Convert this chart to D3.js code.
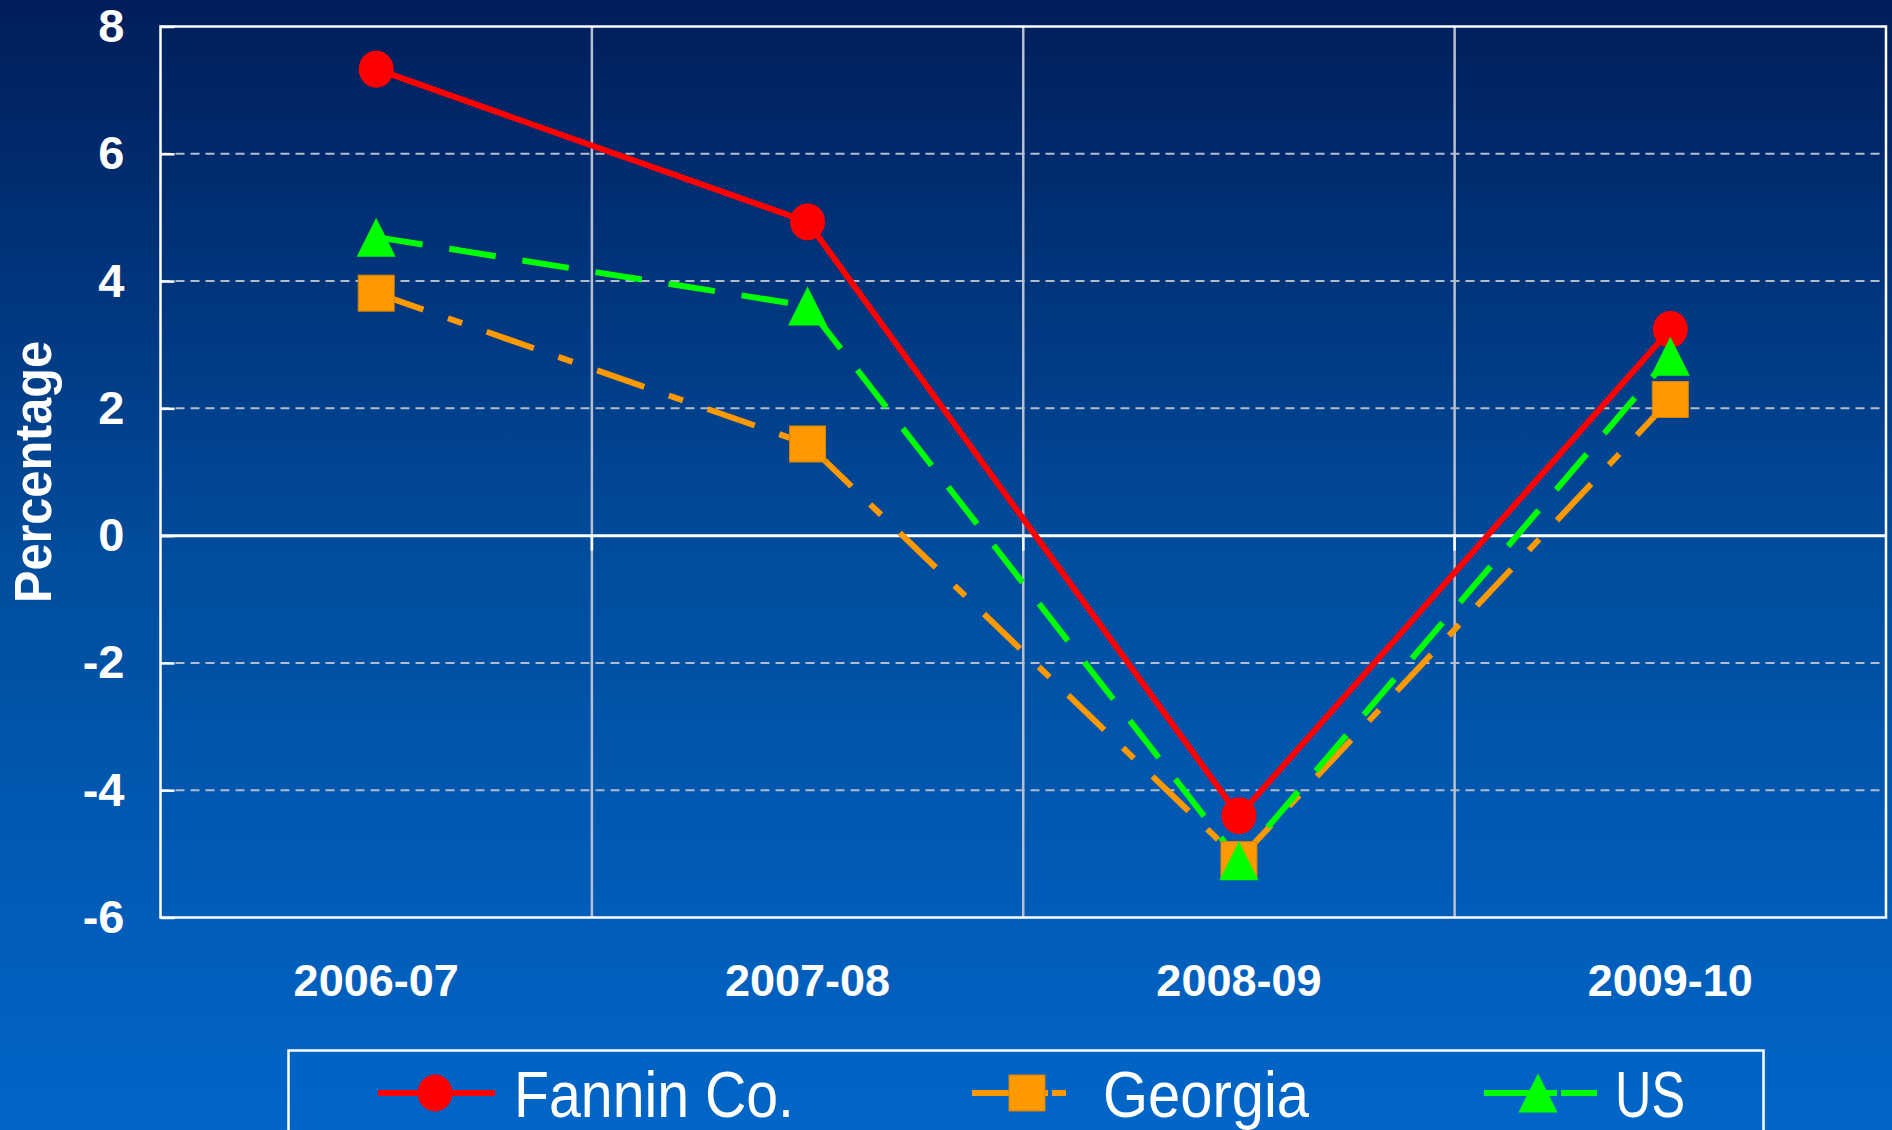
<!DOCTYPE html>
<html>
<head>
<meta charset="utf-8">
<script src="https://cdn.jsdelivr.net/npm/d3@7"></script>
<style>
  body { margin: 0; overflow: hidden; }
  svg text { font-family: "Liberation Sans", Arial, sans-serif; fill: #fff; }
</style>
</head>
<body>
<div id="chart"></div>
<script>
// Data
var years = ["2006-07", "2007-08", "2008-09", "2009-10"];
var fannin = [7.33, 4.93, -4.40, 3.24];
var georgia = [3.81, 1.44, -5.09, 2.14];
var us = [4.69, 3.61, -5.11, 2.82];
var seriesNames = ["Fannin Co.", "Georgia", "US"];
var yTicks = [-6, -4, -2, 0, 2, 4, 6, 8];

var w = 1892, h = 1130;
var margin = {top: 26.5, right: 6, bottom: 212.5, left: 160.5};

var series = [
  {name: seriesNames[0], values: fannin, color: "#ff0000", dash: null, marker: "circle"},
  {name: seriesNames[1], values: georgia, color: "#ff9900", dash: "50,26,15,26", marker: "square"},
  {name: seriesNames[2], values: us, color: "#00ff00", dash: "47,27", marker: "triangle"}
];

var svg = d3.select("#chart")
  .append("svg")
    .attr("width", w)
    .attr("height", h);

// background gradient
var grad = svg.append("defs").append("linearGradient")
  .attr("id", "bg")
  .attr("x1", 0).attr("y1", 0).attr("x2", 0).attr("y2", 1);
grad.append("stop").attr("offset", "0%").attr("stop-color", "#001d5a");
grad.append("stop").attr("offset", "50%").attr("stop-color", "#014d9e");
grad.append("stop").attr("offset", "100%").attr("stop-color", "#0166c8");
svg.append("rect").attr("width", w).attr("height", h).attr("fill", "url(#bg)");

var x = d3.scaleBand()
  .domain(years)
  .range([margin.left, w - margin.right])
  .padding(0);
var y = d3.scaleLinear()
  .domain([-6, 8])
  .range([h - margin.bottom, margin.top]);
var cx = function(i) { return x(years[i]) + x.bandwidth() / 2; };

// horizontal dashed gridlines
svg.append("g")
  .selectAll("line")
  .data(yTicks.filter(function(d) { return d !== 0 && d !== -6 && d !== 8; }))
  .enter().append("line")
    .attr("x1", margin.left).attr("x2", w - margin.right)
    .attr("y1", function(d) { return y(d); })
    .attr("y2", function(d) { return y(d); })
    .attr("stroke", "#b4bccc")
    .attr("stroke-width", 2)
    .attr("stroke-dasharray", "9,6");

// vertical gridlines between categories
svg.append("g")
  .selectAll("line")
  .data(years.slice(1))
  .enter().append("line")
    .attr("x1", function(d) { return x(d); })
    .attr("x2", function(d) { return x(d); })
    .attr("y1", margin.top).attr("y2", h - margin.bottom)
    .attr("stroke", "#b8c0d0")
    .attr("stroke-width", 2.5);

// zero line with small ticks below
svg.append("line")
  .attr("x1", margin.left).attr("x2", w - margin.right)
  .attr("y1", y(0)).attr("y2", y(0))
  .attr("stroke", "#fff").attr("stroke-width", 3);
svg.append("g")
  .selectAll("line")
  .data(years.slice(1))
  .enter().append("line")
    .attr("x1", function(d) { return x(d); })
    .attr("x2", function(d) { return x(d); })
    .attr("y1", y(0)).attr("y2", y(0) + 15)
    .attr("stroke", "#fff").attr("stroke-width", 2.5);

// plot border
svg.append("rect")
  .attr("x", margin.left).attr("y", margin.top)
  .attr("width", w - margin.left - margin.right)
  .attr("height", h - margin.top - margin.bottom)
  .attr("fill", "none")
  .attr("stroke", "#fff").attr("stroke-width", 2.5);

// Y axis (plain hyphen for negatives)
var yAxis = svg.append("g")
  .attr("transform", "translate(" + margin.left + ",0)")
  .call(d3.axisLeft(y).tickValues(yTicks).tickSize(-14).tickPadding(36)
    .tickFormat(function(d) { return String(d); }));
yAxis.select(".domain").remove();
yAxis.selectAll(".tick line").attr("stroke", "#fff").attr("stroke-width", 2.5);
yAxis.selectAll("text")
  .attr("fill", "#fff")
  .attr("font-size", "47px")
  .attr("font-weight", 700)
  .attr("font-family", "Liberation Sans, Arial, sans-serif");

// X axis labels
var xAxis = svg.append("g")
  .attr("transform", "translate(0," + (h - margin.bottom) + ")")
  .call(d3.axisBottom(x).tickSize(0).tickPadding(47));
xAxis.select(".domain").remove();
xAxis.selectAll("text")
  .attr("fill", "#fff")
  .attr("font-size", "45px")
  .attr("font-weight", 700)
  .attr("font-family", "Liberation Sans, Arial, sans-serif");

// Y axis title
svg.append("text")
  .attr("text-anchor", "middle")
  .attr("transform", "translate(51,472) rotate(-90)")
  .attr("font-size", "51px")
  .attr("font-weight", 700)
  .attr("textLength", 262)
  .attr("lengthAdjust", "spacingAndGlyphs")
  .text("Percentage");

function drawMarker(g, type, color, px, py) {
  if (type === "circle") {
    g.append("ellipse").attr("cx", px).attr("cy", py)
      .attr("rx", 17.5).attr("ry", 18.5).attr("fill", color);
  } else if (type === "square") {
    g.append("rect").attr("x", px - 18).attr("y", py - 18)
      .attr("width", 36).attr("height", 36)
      .attr("fill", color).attr("stroke", "#d98200").attr("stroke-width", 1);
  } else {
    g.append("path")
      .attr("d", "M" + px + "," + (py - 19.5) + "L" + (px + 19.5) + "," + (py + 19.5) +
                 "L" + (px - 19.5) + "," + (py + 19.5) + "Z")
      .attr("fill", color);
  }
}

// Lines
var line = d3.line()
  .x(function(d, i) { return cx(i); })
  .y(function(d) { return y(d); });

series.forEach(function(s) {
  svg.append("path")
    .datum(s.values)
    .attr("d", line)
    .attr("fill", "none")
    .attr("stroke", s.color)
    .attr("stroke-width", 6)
    .attr("stroke-dasharray", s.dash);
});

// Markers
series.forEach(function(s) {
  var g = svg.append("g");
  s.values.forEach(function(v, i) {
    drawMarker(g, s.marker, s.color, cx(i), y(v));
  });
});

// Legend
var legendY = 1093;
svg.append("rect")
  .attr("x", 288.5).attr("y", 1050.5)
  .attr("width", 1475).attr("height", 120)
  .attr("fill", "none")
  .attr("stroke", "#fff").attr("stroke-width", 2.5);

var legendLayout = [
  {x1: 378, x2: 495, mx: 435, tx: 514, tl: 280, dash: null},
  {x1: 972, x2: 1066, mx: 1027, tx: 1103, tl: 206, dash: "76,4,14"},
  {x1: 1484, x2: 1597, mx: 1538, tx: 1615, tl: 70, dash: "73,4,40"}
];

series.forEach(function(s, i) {
  var L = legendLayout[i];
  var g = svg.append("g");
  g.append("line")
    .attr("x1", L.x1).attr("x2", L.x2)
    .attr("y1", legendY).attr("y2", legendY)
    .attr("stroke", s.color).attr("stroke-width", 6)
    .attr("stroke-dasharray", L.dash);
  drawMarker(g, s.marker, s.color, L.mx, legendY);
  g.append("text")
    .attr("x", L.tx).attr("y", 1117)
    .attr("font-size", "65px")
    .attr("textLength", L.tl)
    .attr("lengthAdjust", "spacingAndGlyphs")
    .text(s.name);
});
</script>
</body>
</html>
